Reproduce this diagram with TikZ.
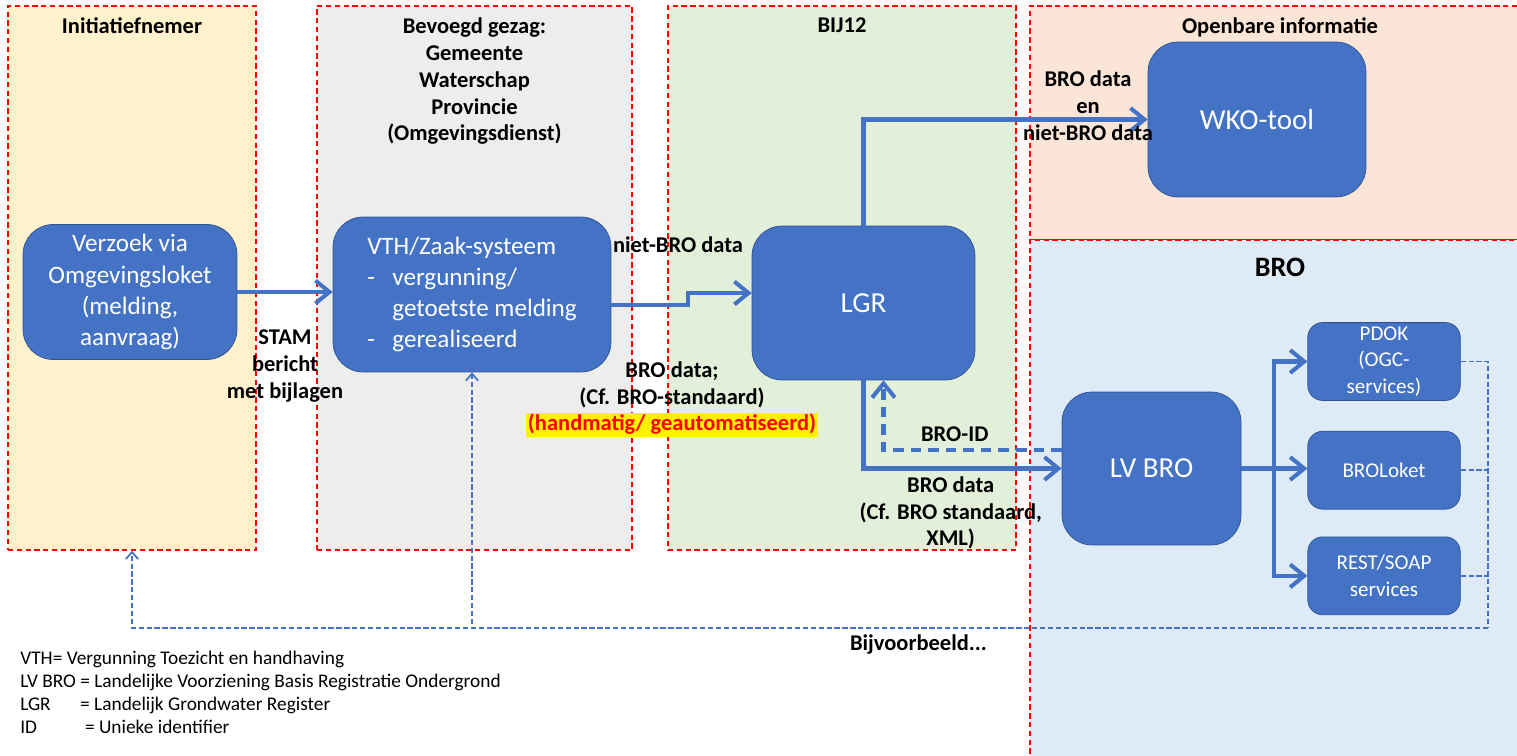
\documentclass[tikz,border=0pt]{standalone}
\usepackage{fontspec}
\setmainfont{Carlito}
\usepackage{tikz}
\definecolor{boxblue}{RGB}{68,114,196}
\definecolor{boxedge}{RGB}{47,82,143}
\definecolor{lanered}{RGB}{255,0,0}
\definecolor{initfill}{RGB}{255,242,204}
\definecolor{gezagfill}{RGB}{237,237,237}
\definecolor{bijfill}{RGB}{226,240,217}
\definecolor{openfill}{RGB}{251,229,214}
\definecolor{brofill}{RGB}{222,235,247}
\usetikzlibrary{arrows.meta, positioning, shapes}
\setlength{\fboxsep}{1pt}
\tikzstyle{lane} = [draw=lanered, line width=0.85pt, dash pattern=on 3pt off 2pt, inner sep=0pt]
\tikzstyle{lanetitle} = [font=\bfseries\fontsize{12.8}{15.3}\selectfont, align=center, anchor=north, inner sep=0pt]
\tikzstyle{block} = [draw=boxedge, fill=boxblue, rectangle, rounded corners=0.6cm, text=white, align=center, inner sep=0pt, font=\fontsize{14.3}{17.7}\selectfont]
\tikzstyle{service} = [block, rounded corners=0.3cm, minimum width=3.05cm, minimum height=1.56cm, font=\fontsize{12}{15}\selectfont]
\tikzstyle{arrow} = [-{Straight Barb[length=8pt, width=13pt]}, draw=boxblue, line width=2.3pt]
\tikzstyle{idarrow} = [arrow, dash pattern=on 6pt off 4pt]
\tikzstyle{fbline} = [draw=boxblue, line width=1pt, dash pattern=on 3pt off 1.5pt]
\tikzstyle{feedback} = [fbline, -{Straight Barb[length=4pt, width=7pt]}]
\tikzstyle{datalabel} = [font=\bfseries\fontsize{12.8}{15.3}\selectfont, align=center]
\tikzstyle{legend} = [font=\fontsize{11}{13}\selectfont, align=left, anchor=north west, inner sep=0pt]

\begin{document}
\begin{tikzpicture}[x=0.02cm, y=-0.02cm]
    \clip (0,0) rectangle (1517,756);
    % Place the lanes
    \node [lane, fill=initfill, minimum width=4.96cm, minimum height=10.88cm] (init) at (132,278) {};
    \node [lane, fill=gezagfill, minimum width=6.3cm, minimum height=10.88cm] (gezag) at (474.5,278) {};
    \node [lane, fill=bijfill, minimum width=6.96cm, minimum height=10.88cm] (bij) at (842,278) {};
    \node [lane, fill=openfill, minimum width=10cm, minimum height=4.68cm] (open) at (1280,123) {};
    \node [lane, fill=brofill, minimum width=10cm, minimum height=10.6cm] (bro) at (1280,505) {};

    \node [lanetitle] at ([yshift=-0.24cm]init.north) {Initiatiefnemer};
    \node [lanetitle] at ([yshift=-0.24cm]gezag.north) {Bevoegd gezag:\\Gemeente\\Waterschap\\Provincie\\(Omgevingsdienst)};
    \node [lanetitle] at ([yshift=-0.24cm]bij.north) {BIJ12};
    \node [lanetitle] at ([yshift=-0.24cm]open.north) {Openbare informatie};
    \node [lanetitle, font=\bfseries\fontsize{16}{19}\selectfont] at ([yshift=-0.36cm]bro.north) {BRO};

    % Place the blocks
    \node [block, minimum width=4.28cm, minimum height=2.7cm] (verzoek) at (130,292) {Verzoek via\\Omgevingsloket\\(melding,\\aanvraag)};
    \node [block, align=left, minimum width=5.56cm, minimum height=3.1cm] (vth) at (472,294.5)
        {VTH/Zaak-systeem\\\makebox[1em][l]{-}vergunning/\\\makebox[1em]{}getoetste melding\\\makebox[1em][l]{-}gerealiseerd};
    \node [block, minimum width=4.46cm, minimum height=3.08cm, font=\fontsize{16.5}{19}\selectfont] (lgr) at (863.5,303) {LGR};
    \node [block, minimum width=4.36cm, minimum height=3.1cm, font=\fontsize{16.5}{19}\selectfont] (wko) at (1257,119.5) {WKO-tool};
    \node [block, minimum width=3.58cm, minimum height=3.06cm, font=\fontsize{16.5}{19}\selectfont] (lvbro) at (1151.5,468.5) {LV BRO};
    \node [service] (pdok) at (1384,361.5) {PDOK\\(OGC-\\services)};
    \node [service, below=0.6cm of pdok] (broloket) {BROLoket};
    \node [service, below=0.54cm of broloket] (rest) {REST/SOAP\\services};

    % Connect the nodes
    \draw [arrow] (verzoek.east) -- node[datalabel, below=0.6cm] {STAM\\bericht\\met bijlagen} (verzoek.east -| vth.west);
    \draw [arrow] ([yshift=-0.21cm]vth.east) -- ++(77,0) |- ([yshift=0.2cm]lgr.west);
    \node [datalabel] at (678,245) {niet-BRO data};
    \node [datalabel] at (672,399) {BRO data;\\(Cf. BRO-standaard)\\\colorbox{yellow}{\textcolor{red}{(handmatig/ geautomatiseerd)}}};
    \draw [arrow] (lgr.north) |- (wko.west);
    \node [datalabel] at (1088,106) {BRO data\\en\\niet-BRO data};
    \draw [arrow] (lgr.south) |- node[datalabel, pos=0.72, below] {BRO data\\(Cf. BRO standaard,\\XML)} (lvbro.west);
    \draw [idarrow] ([yshift=0.37cm]lvbro.west) -| node[datalabel, pos=0.3, above] {BRO-ID} ([xshift=0.4cm]lgr.south);

    \coordinate [right=0.66cm of lvbro.east] (fork);
    \draw [arrow] (lvbro.east) -- (fork) |- (pdok.west);
    \draw [arrow] (lvbro.east) -- (lvbro.east -| broloket.west);
    \draw [arrow] (fork) |- (rest.west);

    % Feedback to the front
    \coordinate (fb) at (1488,628);
    \draw [fbline] (pdok.east) -| (fb);
    \draw [fbline] (broloket.east) -- (broloket.east -| fb);
    \draw [fbline] (rest.east) -- (rest.east -| fb);
    \draw [feedback] (fb) -| node[datalabel, pos=0.21, below] {Bijvoorbeeld...} (init.south);
    \draw [feedback] (fb) -| (vth.south);

    % Legend
    \node [legend] (abbrev) at (20,651) {VTH= Vergunning Toezicht en handhaving\\LV BRO = Landelijke Voorziening Basis Registratie Ondergrond\\\makebox[3.1em][l]{LGR}= Landelijk Grondwater Register\\\makebox[3.35em][l]{ID}= Unieke identifier};
\end{tikzpicture}
\end{document}
